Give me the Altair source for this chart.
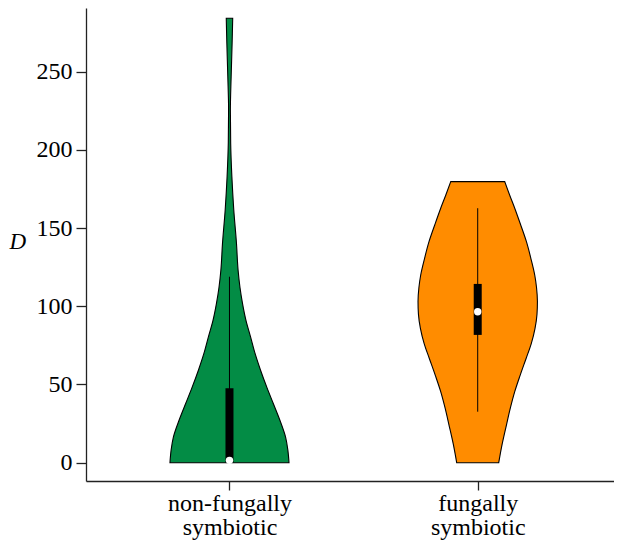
import altair as alt
import pandas as pd

# ---- data ----
categories = ["non-fungally symbiotic", "fungally symbiotic"]
label_lines = [["non-fungally", "symbiotic"], ["fungally", "symbiotic"]]
fill_colors = ["#038C45", "#FF8C00"]

# violin profiles: D values and relative density (max = 1)
green_D = [0, 8, 16.6, 27.3, 38, 48, 59.3, 70, 80.6, 91, 101.9, 112, 123.2, 140.3,
           161.6, 182.9, 204.4, 225.5, 246.8, 268, 284.1]
green_dens = [0.997, 0.978, 0.938, 0.843, 0.732, 0.628, 0.519, 0.427, 0.352, 0.276,
              0.218, 0.176, 0.144, 0.117, 0.072, 0.040, 0.020, 0.015, 0.028, 0.044, 0.054]

orange_D = [0, 12, 24.1, 35, 45.4, 56, 66.8, 76, 85.9, 95, 103, 112, 120, 131, 141.3,
            152, 162.7, 171, 179.7]
orange_dens = [0.352, 0.41, 0.481, 0.547, 0.62, 0.712, 0.812, 0.896, 0.96, 0.993, 1.0,
               0.985, 0.955, 0.888, 0.816, 0.72, 0.62, 0.536, 0.452]

# box-plot summaries: whisker low, q1, median, q3, whisker high
whisk_lo = [0, 32.6]
q1 = [0, 81.7]
median = [1.5, 96.5]
q3 = [47.6, 114.3]
whisk_hi = [118.9, 162.7]

y_ticks = [0, 50, 100, 150, 200, 250]

# ---- tables ----
half_max = 0.2405
rows = []
for i, (Ds, dens) in enumerate([(green_D, green_dens), (orange_D, orange_dens)]):
    pos = i + 1
    for d, w in zip(Ds, dens):
        rows.append({"group": categories[i], "D": d,
                     "lo": pos - w * half_max, "hi": pos + w * half_max})
violin_df = pd.DataFrame(rows)

box_df = pd.DataFrame({
    "group": categories,
    "pos": [1, 2],
    "wlo": whisk_lo, "q1": q1, "med": median, "q3": q3, "whi": whisk_hi,
})

FONT = "Liberation Serif"
xscale = alt.Scale(domain=[0.422, 2.549], nice=False, zero=False)
yscale = alt.Scale(domain=[-11.7, 290.7], nice=False, zero=False)

label_expr = " : ".join(
    f"datum.value == {i+1} ? [{', '.join(repr(s) for s in lines)}]"
    for i, lines in enumerate(label_lines)
) + " : ''"

x_axis = alt.Axis(values=[1, 2], labelExpr=label_expr, title=None, grid=False,
                  tickSize=9, labelFont=FONT, labelFontSize=24, labelColor="black",
                  labelPadding=1, labelLineHeight=24, labelBaseline="top",
                  domainColor="#222", tickColor="#222", domainWidth=1.3, tickWidth=1.3)
y_axis = alt.Axis(values=y_ticks, title="D", grid=False, tickSize=10,
                  labelFont=FONT, labelFontSize=24, labelColor="black", labelPadding=4,
                  domainColor="#222", tickColor="#222", domainWidth=1.3, tickWidth=1.3,
                  titleFont=FONT, titleFontSize=23, titleFontStyle="italic",
                  titleFontWeight="normal", titleColor="black", titleAngle=0,
                  titleAlign="left", titleBaseline="alphabetic", titleX=-77, titleY=240)

violin = alt.Chart(violin_df).mark_area(orient="horizontal", stroke="black",
                                         strokeWidth=1.1, opacity=1,
                                         interpolate="monotone").encode(
    y=alt.Y("D:Q", scale=yscale, axis=y_axis),
    x=alt.X("lo:Q", scale=xscale, axis=x_axis),
    x2="hi:Q",
    color=alt.Color("group:N", scale=alt.Scale(domain=categories, range=fill_colors), legend=None),
)

whisker = alt.Chart(box_df).mark_rule(color="black", strokeWidth=1).encode(
    x=alt.X("pos:Q", scale=xscale), y=alt.Y("wlo:Q", scale=yscale), y2="whi:Q")

box = alt.Chart(box_df).mark_rule(color="black", strokeWidth=8).encode(
    x=alt.X("pos:Q", scale=xscale), y=alt.Y("q1:Q", scale=yscale), y2="q3:Q")

med = alt.Chart(box_df).mark_point(filled=True, color="white", size=55, opacity=1,
                                   strokeWidth=0).encode(
    x=alt.X("pos:Q", scale=xscale), y=alt.Y("med:Q", scale=yscale))

chart = alt.layer(violin, whisker, box, med).properties(
    width=528, height=473,
    padding={"left": 78, "top": 0, "right": 0, "bottom": 59},
    autosize=alt.AutoSizeParams(type="none"),
).configure_view(stroke=None)

chart.save("out.html", embed_options={"renderer": "svg", "actions": False})
